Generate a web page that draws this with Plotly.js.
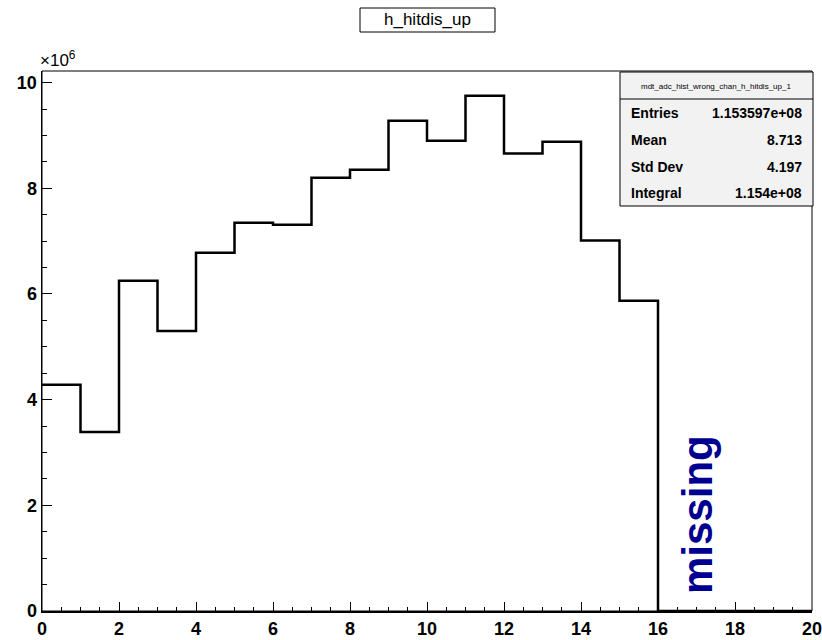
<!DOCTYPE html>
<html><head><meta charset="utf-8">
<script src="https://cdn.plot.ly/plotly-3.0.1.min.js"></script>
<style>html,body{margin:0;padding:0;background:#fff}#c{width:822px;height:640px}</style>
</head><body><div id="c"></div>
<script>
// Histogram h_hitdis_up, 20 bins on [0,20], content in units of 1e6
const binLowEdges = [0,1,2,3,4,5,6,7,8,9,10,11,12,13,14,15,16,17,18,19];
const binUpperEdge = 20;
const binContents = [4.28,3.39,6.25,5.30,6.78,7.35,7.31,8.20,8.35,9.28,8.90,9.75,8.66,8.88,7.01,5.87,0,0,0,0];
const statLabels = ["Entries","Mean","Std Dev","Integral"];
const statValues = ["1.153597e+08","8.713","4.197","1.154e+08"];
const histName = "mdt_adc_hist_wrong_chan_h_hitdis_up_1";
const titleText = "h_hitdis_up";

const xs = binLowEdges.concat([binUpperEdge]);
const ys = binContents.concat([binContents[binContents.length-1]]);

const W=822,H=640, L=42, R=812, T=71, B=611;
const px = v => (v-L)/(R-L), py = v => (B-v)/(B-T);
const F = "Liberation Sans, Arial, sans-serif";

const shapes = [
  {type:'rect', xref:'paper', yref:'paper', x0:px(L), x1:px(R), y0:py(B), y1:py(T), line:{color:'#000',width:1}},
  {type:'rect', xref:'paper', yref:'paper', x0:px(360), x1:px(495), y0:py(32), y1:py(8), line:{color:'#000',width:1}, fillcolor:'#fff'},
  {type:'rect', xref:'paper', yref:'paper', x0:px(620), x1:px(813), y0:py(206), y1:py(72), line:{color:'#000',width:1}, fillcolor:'#f2f2f2'},
  {type:'line', xref:'paper', yref:'paper', x0:px(620), x1:px(813), y0:py(99), y1:py(99), line:{color:'#000',width:1}}
];
const ann = [
  {xref:'paper', yref:'paper', x:px(427.5), y:py(20), text:titleText, showarrow:false, xanchor:'center', yanchor:'middle', font:{family:F, size:17, color:'#000'}},
  {xref:'paper', yref:'paper', x:px(38), y:py(59), text:'×10<sup>6</sup>', showarrow:false, xanchor:'left', yanchor:'middle', font:{family:F, size:17, color:'#000'}},
  {xref:'paper', yref:'paper', x:px(716), y:py(86), text:histName, showarrow:false, xanchor:'center', yanchor:'middle', font:{family:F, size:8, color:'#000'}},
  {xref:'paper', yref:'paper', x:px(697), y:py(515), text:'missing', textangle:-90, showarrow:false, xanchor:'center', yanchor:'middle', font:{family:F, size:42, color:'#000090', weight:'bold'}}
];
const rowsY = [113,140,167,193];
statLabels.forEach((s,i)=>{
  ann.push({xref:'paper', yref:'paper', x:px(629), y:py(rowsY[i]), text:s, showarrow:false, xanchor:'left', yanchor:'middle', font:{family:F, size:14, color:'#000', weight:'bold'}});
  ann.push({xref:'paper', yref:'paper', x:px(804), y:py(rowsY[i]), text:statValues[i], showarrow:false, xanchor:'right', yanchor:'middle', font:{family:F, size:14, color:'#000', weight:'bold'}});
});

Plotly.newPlot('c', [{
  x: xs, y: ys, type:'scatter', mode:'lines', line:{shape:'hv', color:'#000', width:2.5}, hoverinfo:'none'
}], {
  width:W, height:H, showlegend:false,
  paper_bgcolor:'#fff', plot_bgcolor:'#fff',
  margin:{l:L, r:W-R, t:T, b:H-B, pad:0},
  xaxis:{range:[0,20], tickmode:'linear', tick0:0, dtick:2, ticks:'inside', ticklen:9, tickwidth:1, tickcolor:'#000',
    minor:{dtick:0.5, ticks:'inside', ticklen:4, tickcolor:'#000'}, ticklabeloverflow:'allow',
    showgrid:false, zeroline:false, showline:true, linecolor:'#000', linewidth:2,
    tickfont:{family:F, size:18, color:'#000', weight:'bold'}},
  yaxis:{range:[0,10.22], tickmode:'linear', tick0:0, dtick:2, ticks:'inside', ticklen:10, tickwidth:1, tickcolor:'#000',
    minor:{dtick:0.5, ticks:'inside', ticklen:5, tickcolor:'#000'}, ticklabeloverflow:'allow',
    showgrid:false, zeroline:false, showline:true, linecolor:'#000', linewidth:1.5,
    tickfont:{family:F, size:18, color:'#000', weight:'bold'}},
  shapes: shapes, annotations: ann
}, {staticPlot:true});
</script></body></html>
